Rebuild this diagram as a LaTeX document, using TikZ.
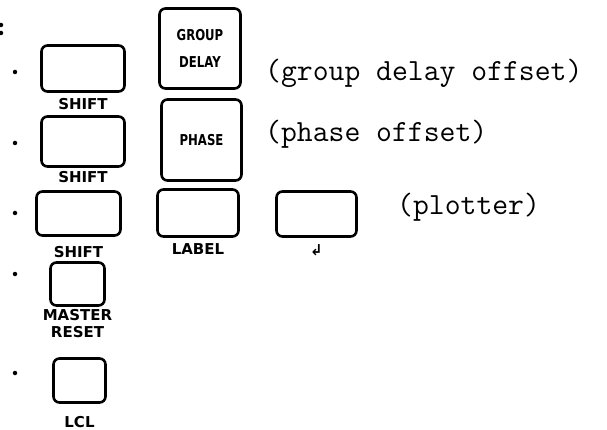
\documentclass[tikz,border=0pt]{standalone}
\usepackage{fontspec}
\newfontfamily\keyfont{DejaVu Sans}
\newfontfamily\narrowkeyfont{DejaVu Sans}[FakeStretch=0.78]
\usetikzlibrary{positioning}

\tikzset{
  key/.style={draw,line width=2.6pt,rounded corners=6pt,inner sep=0pt,align=center,
    font=\narrowkeyfont\bfseries\fontsize{15}{27}\selectfont},
  keylabel/.style={inner sep=0pt,align=center,font=\keyfont\bfseries\fontsize{15}{17}\selectfont},
  note/.style={anchor=west,inner sep=0pt,font=\ttfamily\fontsize{30.8}{34}\selectfont},
  dot/.style={circle,fill,inner sep=0pt,minimum size=4.5pt}
}

\begin{document}
\begin{tikzpicture}[x=1pt,y=-1pt]
  \useasboundingbox (0,0) rectangle (607,430);
  % colon cut off at the left edge
  \node[dot] (colonA) at (1,25) {};
  \node[dot] (colonB) at (1,33) {};
  % bullets
  \node[dot] (bulletA) at (15,72) {};
  \node[dot] (bulletB) at (15,143) {};
  \node[dot] (bulletC) at (15,213) {};
  \node[dot] (bulletD) at (15,274) {};
  \node[dot] (bulletE) at (15,373) {};
  % keys
  \node[key,minimum width=83pt,minimum height=46pt] (shiftA) at (83,68.5) {};
  \node[key,minimum width=83pt,minimum height=50pt] (shiftB) at (83,141.5) {};
  \node[key,minimum width=84pt,minimum height=44pt] (shiftC) at (78.5,213.5) {};
  \node[key,minimum width=81pt,minimum height=80pt] (grpdly) at (200,48.5) {\raisebox{-4pt}{\shortstack{GROUP\\[13pt]DELAY}}};
  \node[key,minimum width=80pt,minimum height=81pt] (phase) at (201.5,140) {PHASE};
  \node[key,minimum width=81pt,minimum height=47pt] (label) at (198,213) {};
  \node[key,minimum width=80pt,minimum height=45pt] (plot) at (316.5,214) {};
  \node[key,minimum width=54pt,minimum height=43pt] (master) at (77.5,284) {};
  \node[key,minimum width=52pt,minimum height=44pt] (lcl) at (79.5,380.5) {};
  % labels under the keys
  \node[keylabel,below=5pt of shiftA] (shiftAlbl) {SHIFT};
  \node[keylabel,below=3pt of shiftB] (shiftBlbl) {SHIFT};
  \node[keylabel,below=9pt of shiftC] (shiftClbl) {SHIFT};
  \node[keylabel,below=6pt of label] (labellbl) {LABEL};
  \node[keylabel,font=\keyfont\bfseries\fontsize{15}{15}\selectfont,below=7pt of plot] (plotlbl) {↲};
  \node[keylabel,below=2pt of master] (masterlbl) {MASTER\\RESET};
  \node[keylabel,below=12pt of lcl] (lcllbl) {LCL};
  % notes
  \node[note] (grpnote) at (265,73) {(group delay offset)};
  \node[note] (phnote) at (265,134) {(phase offset)};
  \node[note] (plotnote) at (397,207) {(plotter)};
\end{tikzpicture}
\end{document}
